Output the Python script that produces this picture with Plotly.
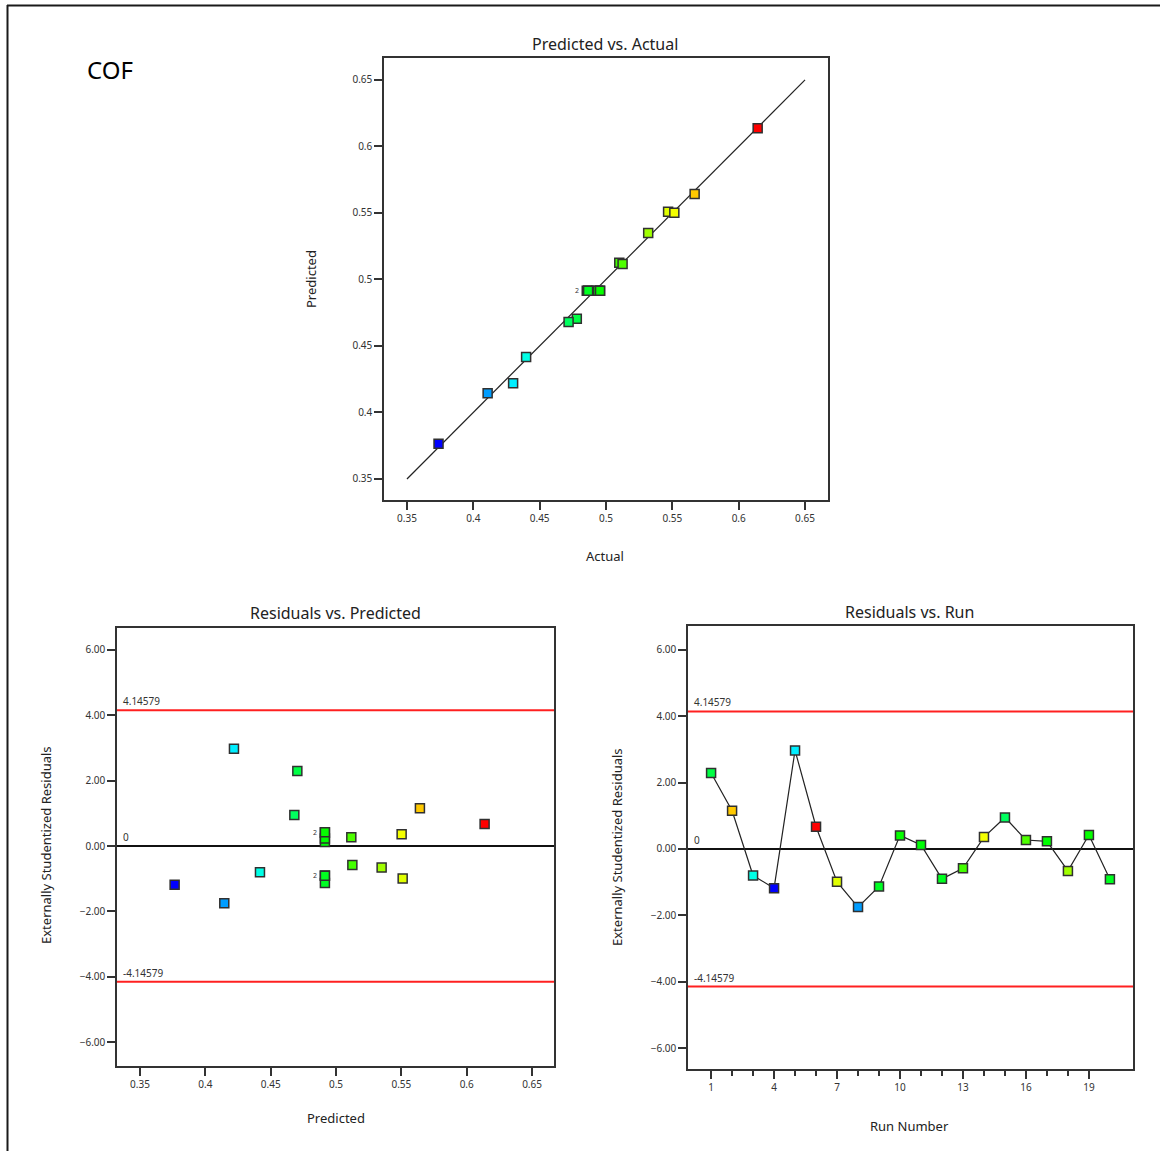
import plotly.graph_objects as go

# ---------------- data ----------------
runs = list(range(1, 21))
actual = [0.478, 0.5668, 0.4398, 0.3738, 0.4300, 0.6143, 0.5468, 0.4108, 0.4855, 0.4955,
          0.4925, 0.4865, 0.5100, 0.5515, 0.4718, 0.5125, 0.4940, 0.5318, 0.4955, 0.4865]
predicted = [0.4704, 0.5642, 0.4418, 0.3765, 0.4219, 0.6137, 0.5510, 0.4145, 0.4915, 0.4915,
             0.4915, 0.4915, 0.5125, 0.5502, 0.4681, 0.5117, 0.4915, 0.5349, 0.4915, 0.4915]
residuals = [2.29, 1.15, -0.80, -1.18, 2.97, 0.67, -0.99, -1.75, -1.13, 0.41,
             0.12, -0.90, -0.58, 0.36, 0.95, 0.27, 0.23, -0.66, 0.42, -0.91]
limit = 4.14579
diag = [0.35, 0.65]
pred_ticks = [0.35, 0.4, 0.45, 0.5, 0.55, 0.6, 0.65]
pred_ticktext = ["0.35", "0.4", "0.45", "0.5", "0.55", "0.6", "0.65"]
res_ticks = [-6, -4, -2, 0, 2, 4, 6]
run_major_ticks = [1, 4, 7, 10, 13, 16, 19]
run_minor_ticks = [2, 3, 5, 6, 8, 9, 11, 12, 14, 15, 17, 18]
# overlapping-point labels: (x, y, text) per panel
top_overlaps = [(0.4860, 0.4915, "2")]
res_overlaps = [(0.4915, 0.415, "2"), (0.4915, -0.905, "2")]

W, H = 1160, 1151
FONT = "Noto Sans"
AX = "#333333"
cscale = [[0, "#0000ff"], [0.25, "#00ffff"], [0.5, "#00ff00"], [0.75, "#ffff00"], [1, "#ff0000"]]
cmin, cmax = min(actual), max(actual)


def px(x):
    return x / W


def py(y):
    return 1 - y / H


marker = dict(symbol="square", size=9, color=actual, colorscale=cscale, cmin=cmin, cmax=cmax,
              line=dict(color="#303030", width=1.5))

fig = go.Figure()

# top: predicted vs actual
fig.add_trace(go.Scatter(x=diag, y=diag, mode="lines", line=dict(color="#222222", width=1.2),
                         xaxis="x", yaxis="y", showlegend=False, hoverinfo="skip"))
fig.add_trace(go.Scatter(x=actual, y=predicted, mode="markers", marker=marker,
                         xaxis="x", yaxis="y", showlegend=False))

# bottom-left: residuals vs predicted
fig.add_trace(go.Scatter(x=predicted, y=residuals, mode="markers", marker=marker,
                         xaxis="x2", yaxis="y2", showlegend=False))

# bottom-right: residuals vs run
fig.add_trace(go.Scatter(x=runs, y=residuals, mode="lines+markers", marker=marker,
                         line=dict(color="#222222", width=1.2),
                         xaxis="x3", yaxis="y3", showlegend=False))

axis_common = dict(showline=True, mirror=True, linecolor=AX, linewidth=1.5, showgrid=False,
                   zeroline=False, ticks="outside", ticklen=8, tickwidth=1.5, tickcolor=AX,
                   tickfont=dict(family=FONT, size=10, color="#333333"))

fig.update_layout(
    width=W, height=H, margin=dict(l=0, r=0, t=0, b=0),
    paper_bgcolor="white", plot_bgcolor="white",
    font=dict(family=FONT, color="#222222"),
    xaxis=dict(domain=[px(384), px(828)], range=[0.3327, 0.6673], anchor="y",
               tickvals=pred_ticks, ticktext=pred_ticktext, **axis_common),
    yaxis=dict(domain=[py(500), py(58)], range=[0.3342, 0.6665], anchor="x",
               tickvals=pred_ticks, ticktext=pred_ticktext, **axis_common),
    xaxis2=dict(domain=[px(117), px(554)], range=[0.3324, 0.6668], anchor="y2",
                tickvals=pred_ticks, ticktext=pred_ticktext, **axis_common),
    yaxis2=dict(domain=[py(1066), py(628)], range=[-6.72, 6.66], anchor="x2",
                tickvals=res_ticks, tickformat=".2f", **axis_common),
    xaxis3=dict(domain=[px(688), px(1133)], range=[-0.1, 21.1], anchor="y3",
                tickvals=run_major_ticks,
                minor=dict(tickmode="array", tickvals=run_minor_ticks, ticks="outside",
                           ticklen=5, tickwidth=1.5, tickcolor=AX),
                **axis_common),
    yaxis3=dict(domain=[py(1069), py(626)], range=[-6.63, 6.72], anchor="x3",
                tickvals=res_ticks, tickformat=".2f", **axis_common),
)

shapes = []
annotations = []

# limit and zero lines
for xa, ya in (("x2", "y2"), ("x3", "y3")):
    for val, col, wdt in ((limit, "#ff2020", 2), (-limit, "#ff2020", 2), (0, "#111111", 2)):
        shapes.append(dict(type="line", xref=f"{xa} domain", yref=ya, x0=0, x1=1, y0=val, y1=val,
                           line=dict(color=col, width=wdt), layer="below"))
    for val, txt in ((limit, f"{limit}"), (-limit, f"{-limit}"), (0, "0")):
        annotations.append(dict(xref=f"{xa} domain", yref=ya, x=0, y=val, text=txt, showarrow=False,
                                xanchor="left", yanchor="bottom", xshift=4, yshift=0,
                                font=dict(family=FONT, size=10, color="#333333")))

# overlap labels
for x, y, t in top_overlaps:
    annotations.append(dict(xref="x", yref="y", x=x, y=y, text=t, showarrow=False,
                            xanchor="right", xshift=-6, font=dict(family=FONT, size=7, color="#333")))
for x, y, t in res_overlaps:
    annotations.append(dict(xref="x2", yref="y2", x=x, y=y, text=t, showarrow=False,
                            xanchor="right", xshift=-6, font=dict(family=FONT, size=7, color="#333")))

# outer frame (top and left)
shapes.append(dict(type="line", xref="paper", yref="paper", x0=px(7), x1=1, y0=py(5.5), y1=py(5.5),
                   line=dict(color="#1a1a1a", width=2)))
shapes.append(dict(type="line", xref="paper", yref="paper", x0=px(7.5), x1=px(7.5), y0=py(5), y1=0,
                   line=dict(color="#1a1a1a", width=2)))


def text(x, y, t, size, angle=0, color="#222222"):
    annotations.append(dict(xref="paper", yref="paper", x=px(x), y=py(y), text=t, showarrow=False,
                            xanchor="center", yanchor="middle", textangle=angle,
                            font=dict(family=FONT, size=size, color=color)))


text(110, 70, "COF", 24, color="#000000")
text(605, 44, "Predicted vs. Actual", 16)
text(605, 556, "Actual", 13)
text(311, 279, "Predicted", 13, angle=-90)
text(335, 613, "Residuals vs. Predicted", 16)
text(336, 1118, "Predicted", 13)
text(46, 845, "Externally Studentized Residuals", 13, angle=-90)
text(909, 612, "Residuals vs. Run", 16)
text(909, 1126, "Run Number", 13)
text(617, 847, "Externally Studentized Residuals", 13, angle=-90)

fig.update_layout(shapes=shapes, annotations=annotations)
fig.write_html("out.html")
